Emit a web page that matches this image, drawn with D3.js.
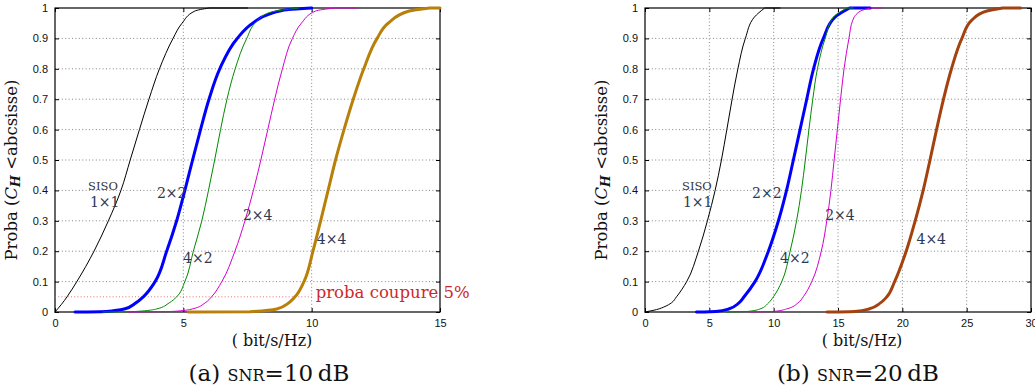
<!DOCTYPE html>
<html>
<head>
<meta charset="utf-8">
<script src="https://cdn.jsdelivr.net/npm/d3@7/dist/d3.min.js"></script>
<style>
  html, body { margin: 0; padding: 0; background: #fff; }
  svg { display: block; }
  .tick text { font-family: "Liberation Sans", Arial, sans-serif; font-size: 11px; fill: #111; }
</style>
</head>
<body>
<svg id="chart" width="1035" height="390"></svg>
<script>
// ---------- data ----------
const yTicks = [0, 0.1, 0.2, 0.3, 0.4, 0.5, 0.6, 0.7, 0.8, 0.9, 1];
const yTickLabels = ["0", "0.1", "0.2", "0.3", "0.4", "0.5", "0.6", "0.7", "0.8", "0.9", "1"];
const xTicks10 = [0, 5, 10, 15];
const xTicks20 = [0, 5, 10, 15, 20, 25, 30];
const seriesNames = ["1×1", "2×2", "4×2", "2×4", "4×4"];

// SNR = 10 dB : capacity (bit/s/Hz) and CDF value
const siso10X = [0, 0.25, 0.47, 0.85, 1.2, 1.52, 2.08, 2.57, 2.93, 3.29, 3.66, 4.07, 4.6, 4.95, 5.45, 6.0, 7.5];
const siso10P = [0, 0.025, 0.05, 0.1, 0.15, 0.2, 0.3, 0.4, 0.5, 0.6, 0.7, 0.8, 0.9, 0.95, 0.99, 1, 1];
const m22_10X = [0.78, 2.0, 2.7, 3.15, 3.44, 3.9, 4.35, 4.74, 5.06, 5.36, 5.67, 6.0, 6.42, 7.1, 7.7, 8.35, 9.1, 10.0];
const m22_10P = [0, 0.002, 0.01, 0.03, 0.05, 0.1, 0.2, 0.3, 0.4, 0.5, 0.6, 0.7, 0.8, 0.9, 0.95, 0.98, 0.995, 1];
const m42_10X = [1.87, 3.0, 3.96, 4.45, 4.74, 5.06, 5.39, 5.72, 5.98, 6.22, 6.45, 6.7, 7.02, 7.47, 7.85, 8.35, 9.5];
const m42_10P = [0, 0.001, 0.01, 0.03, 0.05, 0.1, 0.2, 0.3, 0.4, 0.5, 0.6, 0.7, 0.8, 0.9, 0.955, 0.985, 1];
const m24_10X = [2.84, 4.6, 5.35, 5.85, 6.1, 6.5, 7.01, 7.4, 7.73, 8.02, 8.29, 8.56, 8.86, 9.25, 9.6, 10.15, 10.9, 11.75];
const m24_10P = [0, 0.002, 0.01, 0.03, 0.05, 0.1, 0.2, 0.3, 0.4, 0.5, 0.6, 0.7, 0.8, 0.9, 0.95, 0.99, 1, 1];
const m44_10X = [5.2, 7.6, 8.64, 9.1, 9.35, 9.7, 10.05, 10.35, 10.64, 10.93, 11.26, 11.62, 12.03, 12.55, 12.98, 13.8, 14.6, 15];
const m44_10P = [0, 0.001, 0.01, 0.03, 0.05, 0.1, 0.2, 0.3, 0.4, 0.5, 0.6, 0.7, 0.8, 0.9, 0.95, 0.99, 1, 1];

// SNR = 20 dB
const siso20X = [0, 0.9, 1.55, 2.05, 2.45, 3.24, 4.15, 4.85, 5.45, 5.94, 6.36, 6.77, 7.22, 7.8, 8.5, 9.3, 10.5];
const siso20P = [0, 0.008, 0.018, 0.03, 0.05, 0.1, 0.2, 0.3, 0.4, 0.5, 0.6, 0.7, 0.8, 0.9, 0.97, 1, 1];
const m22_20X = [4.0, 5.5, 6.5, 7.3, 7.7, 8.55, 9.59, 10.37, 11.0, 11.53, 12.05, 12.57, 13.1, 13.86, 14.77, 15.9, 17.5];
const m22_20P = [0, 0.002, 0.01, 0.03, 0.05, 0.1, 0.2, 0.3, 0.4, 0.5, 0.6, 0.7, 0.8, 0.9, 0.97, 1, 1];
const m42_20X = [6.35, 8.0, 8.94, 9.6, 9.98, 10.63, 11.28, 11.78, 12.16, 12.46, 12.74, 13.04, 13.4, 14.0, 14.65, 15.7, 16.2];
const m42_20P = [0, 0.002, 0.01, 0.03, 0.05, 0.1, 0.2, 0.3, 0.4, 0.5, 0.6, 0.7, 0.8, 0.9, 0.97, 1, 1];
const m24_20X = [8.16, 10.0, 11.0, 11.9, 12.3, 12.96, 13.7, 14.13, 14.45, 14.7, 14.95, 15.2, 15.47, 15.85, 16.15, 16.75, 17.5, 18.4];
const m24_20P = [0, 0.002, 0.01, 0.03, 0.05, 0.1, 0.2, 0.3, 0.4, 0.5, 0.6, 0.7, 0.8, 0.9, 0.96, 0.99, 1, 1];
const m44_20X = [14.13, 16.3, 17.4, 18.3, 18.8, 19.4, 20.3, 21.0, 21.62, 22.15, 22.66, 23.2, 23.82, 24.63, 25.4, 26.57, 27.8, 29.2];
const m44_20P = [0, 0.002, 0.01, 0.03, 0.05, 0.1, 0.2, 0.3, 0.4, 0.5, 0.6, 0.7, 0.8, 0.9, 0.96, 0.99, 1, 1];

const outageProba = 0.05;
const outageEndX = 10;

// ---------- layout / style ----------
const svg = d3.select("#chart");
const plotTop = 8, plotBottom = 312;
const serif = "'DejaVu Serif', 'Liberation Serif', serif";
const labelColor = "#2b3a55";

const panels = [
  {
    left: 55, right: 440, xmax: 15, xTicks: xTicks10, letter: "(a) ", snrVal: "=10\u2009dB",
    series: [
      {x: siso10X, p: siso10P, color: "#000000", w: 1},
      {x: m22_10X, p: m22_10P, color: "#0000ff", w: 3},
      {x: m42_10X, p: m42_10P, color: "#008a00", w: 1},
      {x: m24_10X, p: m24_10P, color: "#d200d2", w: 1},
      {x: m44_10X, p: m44_10P, color: "#b8800a", w: 3}
    ],
    labels: [[1.36, 0.345], [3.97, 0.375], [4.99, 0.161], [7.32, 0.303], [10.2, 0.224]],
    siso: [1.29, 0.401],
    outage: true,
    yLabelX: 17, xLabelX: 272, captionX: 269
  },
  {
    left: 645, right: 1031, xmax: 30, xTicks: xTicks20, letter: "(b) ", snrVal: "=20\u2009dB",
    series: [
      {x: siso20X, p: siso20P, color: "#000000", w: 1},
      {x: m22_20X, p: m22_20P, color: "#0000ff", w: 3},
      {x: m42_20X, p: m42_20P, color: "#008a00", w: 1},
      {x: m24_20X, p: m24_20P, color: "#d200d2", w: 1},
      {x: m44_20X, p: m44_20P, color: "#a3420f", w: 3}
    ],
    labels: [[2.95, 0.345], [8.32, 0.375], [10.5, 0.161], [14.0, 0.303], [21.1, 0.224]],
    siso: [2.88, 0.401],
    outage: false,
    yLabelX: 607, xLabelX: 862, captionX: 858
  }
];

panels.forEach(pn => {
  const x = d3.scaleLinear().domain([0, pn.xmax]).range([pn.left, pn.right]);
  const y = d3.scaleLinear().domain([0, 1]).range([plotBottom, plotTop]);
  const W = pn.right - pn.left, H = plotBottom - plotTop;
  const g = svg.append("g");

  // grid (dotted)
  const grid = g.append("g").attr("stroke", "#666").attr("stroke-width", 0.8).attr("stroke-dasharray", "1,2.4");
  grid.selectAll("line.gx").data(pn.xTicks.slice(1, -1)).join("line")
    .attr("x1", d => x(d)).attr("x2", d => x(d)).attr("y1", plotTop).attr("y2", plotBottom);
  grid.selectAll("line.gy").data(yTicks.slice(1, -1)).join("line")
    .attr("x1", pn.left).attr("x2", pn.right).attr("y1", d => y(d)).attr("y2", d => y(d));

  // axes with inward ticks
  const ax = g.append("g").attr("transform", `translate(0,${plotBottom})`)
    .call(d3.axisBottom(x).tickValues(pn.xTicks).tickSize(-4).tickSizeOuter(0).tickPadding(9).tickFormat(d3.format("d")));
  const ay = g.append("g").attr("transform", `translate(${pn.left},0)`)
    .call(d3.axisLeft(y).tickValues(yTicks).tickSize(-4).tickSizeOuter(0).tickPadding(7).tickFormat((d, i) => yTickLabels[i]));
  const at = g.append("g").attr("transform", `translate(0,${plotTop})`)
    .call(d3.axisTop(x).tickValues(pn.xTicks).tickSize(-4).tickSizeOuter(0).tickFormat(""));
  const ar = g.append("g").attr("transform", `translate(${pn.right},0)`)
    .call(d3.axisRight(y).tickValues(yTicks).tickSize(-4).tickSizeOuter(0).tickFormat(""));
  [ax, ay, at, ar].forEach(a => { a.select(".domain").remove(); a.selectAll("line").attr("stroke", "#000").attr("stroke-width", 1); });
  ax.selectAll("text").attr("dy", "0.55em");

  // frame
  g.append("rect").attr("x", pn.left).attr("y", plotTop).attr("width", W).attr("height", H)
    .attr("fill", "none").attr("stroke", "#000").attr("stroke-width", 1.2);

  // outage line
  if (pn.outage) {
    g.append("line").attr("x1", x(0)).attr("x2", x(outageEndX))
      .attr("y1", y(outageProba)).attr("y2", y(outageProba))
      .attr("stroke", "#e05050").attr("stroke-width", 0.8).attr("stroke-dasharray", "1,2.2");
    g.append("text").attr("x", x(outageEndX) + 4).attr("y", y(outageProba) + 1)
      .attr("font-family", serif).attr("font-size", 16.5).attr("fill", "#cc2a2a")
      .text("proba coupure 5%");
  }

  // curves: rising part interpolated as x = f(p) (monotone), flat tail straight
  const rise = d3.line().x(d => x(d[0])).y(d => y(d[1])).curve(d3.curveMonotoneY);
  pn.series.forEach(s => {
    const pts = s.x.map((v, i) => [v, s.p[i]]);
    const k = pts.findIndex(d => d[1] >= 1);
    const risePts = pts.slice(0, k + 1), flatPts = pts.slice(k + 1);
    const dStr = rise(risePts) + flatPts.map(d => `L${x(d[0])},${y(d[1])}`).join("");
    g.append("path").attr("d", dStr)
      .attr("fill", "none").attr("stroke", s.color).attr("stroke-width", s.w)
      .attr("stroke-linejoin", "round").attr("stroke-linecap", "round");
  });

  // series labels
  g.append("text").attr("x", x(pn.siso[0])).attr("y", y(pn.siso[1]))
    .attr("font-family", serif).attr("font-size", 11.5).attr("fill", "#333").text("SISO");
  pn.labels.forEach((l, i) => {
    g.append("text").attr("x", x(l[0])).attr("y", y(l[1]))
      .attr("font-family", serif).attr("font-size", 14).attr("fill", labelColor).text(seriesNames[i]);
  });

  // y label
  const yl = g.append("text").attr("transform", `translate(${pn.yLabelX},${170}) rotate(-90)`)
    .attr("text-anchor", "middle").attr("font-family", serif).attr("font-size", 16.5).attr("fill", "#111");
  yl.append("tspan").text("Proba (");
  yl.append("tspan").attr("font-style", "italic").text("C");
  yl.append("tspan").attr("font-style", "italic").attr("font-weight", "bold").attr("font-size", 12.5).attr("dy", 3).text("H");
  yl.append("tspan").attr("dy", -3).text(" <abcsisse)");

  // x label
  g.append("text").attr("x", pn.xLabelX).attr("y", 346).attr("text-anchor", "middle")
    .attr("font-family", serif).attr("font-size", 16).attr("fill", "#111").text("( bit/s/Hz)");

  // caption
  const cap = g.append("text").attr("x", pn.captionX).attr("y", 381).attr("text-anchor", "middle")
    .attr("font-family", serif).attr("font-size", 23).attr("fill", "#111");
  cap.append("tspan").text(pn.letter);
  cap.append("tspan").attr("font-variant", "small-caps").text("snr");
  cap.append("tspan").text(pn.snrVal);
});
</script>
</body>
</html>
